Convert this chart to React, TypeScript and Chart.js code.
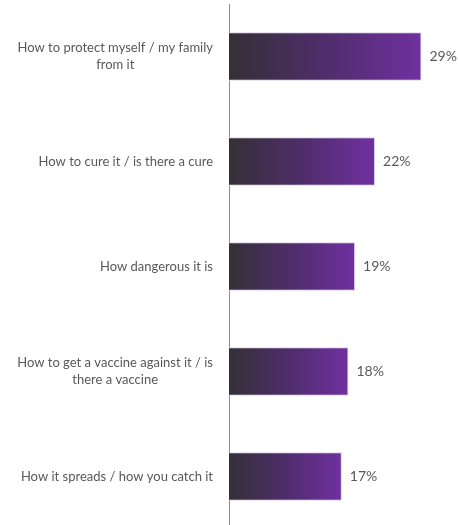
import React, { useEffect, useRef } from "react";
import { Chart, registerables } from "chart.js";

Chart.register(...registerables);

const categories: string[][] = [
  ["How to protect myself / my family", "from it"],
  ["How to cure it / is there a cure"],
  ["How dangerous it is"],
  ["How to get a vaccine against it / is", "there a vaccine"],
  ["How it spreads / how you catch it"],
];
const values: number[] = [29, 22, 19, 18, 17];
const xMax = 34.5;

const LABEL_FONT = "13px Lato";
const VALUE_FONT = "14px Lato";
const TEXT_COLOR = "#595959";

const labelPlugin = {
  id: "customLabels",
  afterDatasetsDraw(chart: any) {
    const ctx = chart.ctx as CanvasRenderingContext2D;
    const y = chart.scales.y;
    const x = chart.scales.x;
    ctx.save();
    ctx.fillStyle = TEXT_COLOR;
    ctx.textBaseline = "middle";
    ctx.font = LABEL_FONT;
    const rightEdge = chart.chartArea.left - 16;
    const lineH = 17;
    categories.forEach((lines, i) => {
      const cy = y.getPixelForValue(i);
      const maxW = Math.max(...lines.map((l) => ctx.measureText(l).width));
      const cx = rightEdge - maxW / 2;
      ctx.textAlign = "center";
      const startY = cy - ((lines.length - 1) * lineH) / 2;
      lines.forEach((l, j) => ctx.fillText(l, cx, startY + j * lineH));
    });
    ctx.font = VALUE_FONT;
    ctx.textAlign = "left";
    values.forEach((v, i) => {
      const px = x.getPixelForValue(v);
      const py = y.getPixelForValue(i);
      ctx.fillText(v + "%", px + 8, py);
    });
    ctx.restore();
  },
};

export default function App() {
  const ref = useRef<HTMLCanvasElement>(null);
  useEffect(() => {
    if (!ref.current) return;
    const chart = new Chart(ref.current, {
      type: "bar",
      data: {
        labels: categories.map((c) => c.join(" ")),
        datasets: [
          {
            data: values,
            backgroundColor: (context: any) => {
              const ch = context.chart;
              const xs = ch.scales?.x;
              if (!xs || !ch.chartArea || context.dataIndex === undefined) return "#5a2a80";
              const x0 = xs.getPixelForValue(0);
              const x1 = xs.getPixelForValue(values[context.dataIndex]);
              if (!isFinite(x0) || !isFinite(x1)) return "#5a2a80";
              const g = ch.ctx.createLinearGradient(x0, 0, x1, 0);
              g.addColorStop(0, "#333036");
              g.addColorStop(0.5, "#4f2d6b");
              g.addColorStop(1, "#7030a0");
              return g;
            },
            borderColor: "#dccfe8",
            borderWidth: { top: 1, right: 1, bottom: 1, left: 0 },
            borderSkipped: false,
            barPercentage: 0.46,
            categoryPercentage: 1,
          },
        ],
      },
      options: {
        animation: false,
        responsive: true,
        maintainAspectRatio: false,
        indexAxis: "y",
        layout: { padding: { top: 4, right: 0, bottom: 0, left: 0 } },
        plugins: {
          legend: { display: false },
          tooltip: { enabled: false },
        },
        scales: {
          x: {
            display: false,
            min: 0,
            max: xMax,
          },
          y: {
            grid: { display: false, drawTicks: false },
            border: { display: true, color: "#8c8c8c", width: 1 },
            ticks: { display: false },
            afterFit(scale: any) {
              scale.width = 229;
            },
          },
        },
      },
      plugins: [labelPlugin],
    });
    return () => chart.destroy();
  }, []);
  return (
    <div
      style={{
        position: "fixed",
        left: 0,
        top: 0,
        width: 458,
        height: 529,
        background: "#fff",
      }}
    >
      <canvas ref={ref} />
    </div>
  );
}
